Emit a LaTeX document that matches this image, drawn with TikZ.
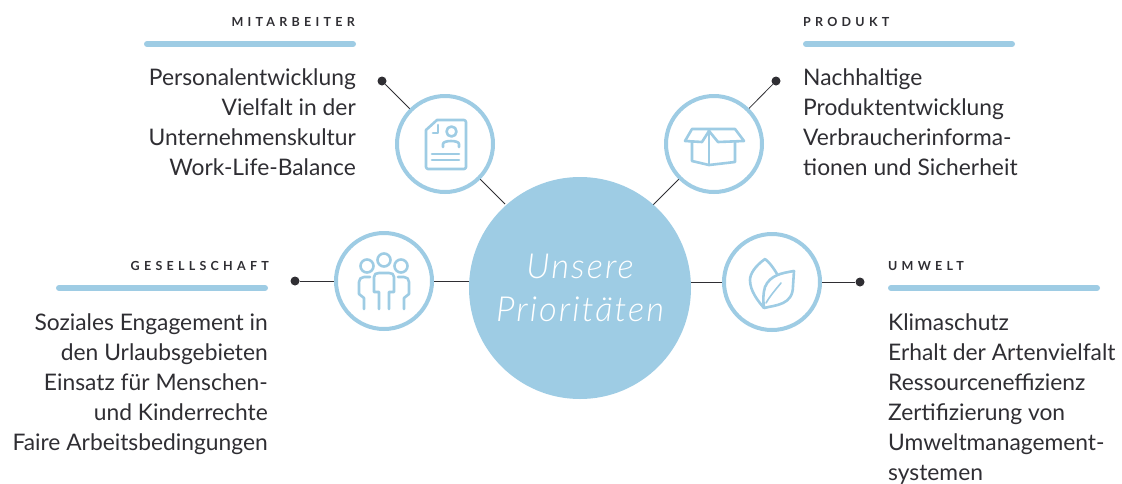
\documentclass[tikz,border=0pt]{standalone}
\usepackage{fontspec}
\setmainfont{Lato}
\newfontfamily\headfont[LetterSpace=34]{Lato Bold}
\newfontfamily\prifont[LetterSpace=6]{Lato Light Italic}
\definecolor{prio}{HTML}{9ECCE4}
\definecolor{ink}{HTML}{2F2E33}
\tikzstyle{ring}=[shape=circle,draw=prio,line width=4pt,fill=white,inner sep=0pt,minimum size=96pt]
\tikzstyle{hub}=[shape=circle,fill=prio,inner sep=0pt,minimum size=222pt,text=white,align=center,font=\prifont\fontsize{34.5}{43}\selectfont]
\tikzstyle{pt}=[shape=circle,fill=ink,inner sep=0pt,minimum size=9pt]
\tikzstyle{link}=[-,draw=ink,line width=0.8pt]
\tikzstyle{head}=[inner sep=0pt,text=ink,font=\headfont\fontsize{12.5}{14}\selectfont]
\tikzstyle{bar}=[draw=prio,line width=6pt,line cap=round]
\tikzstyle{txt}=[inner sep=0pt,text=ink,font=\fontsize{22.8}{30}\selectfont]
\tikzstyle{icon}=[draw=prio,line width=2.6pt,line join=round,line cap=round]
\begin{document}
\begin{tikzpicture}[x=1pt,y=-1pt]
    \useasboundingbox (0,0) rectangle (1122,483);
    \coordinate (hubA) at (505,204);
    \coordinate (hubB) at (652,206);
    \coordinate (hubC) at (471,281);
    \coordinate (hubD) at (689,282);
    \node[ring] (doc) at (445,144) {}
        edge[link] (hubA);
    \node[ring] (box) at (714,144) {}
        edge[link] (hubB);
    \node[ring] (team) at (384,281) {}
        edge[link] (hubC);
    \node[ring] (leaf) at (772,282) {}
        edge[link] (hubD);
    \node[pt] (ptA) at (382,81) {}
        edge[link] (doc);
    \node[pt] (ptB) at (776,81) {}
        edge[link] (box);
    \node[pt] (ptC) at (295,281) {}
        edge[link] (team);
    \node[pt] (ptD) at (860,282) {}
        edge[link] (leaf);
    \node[hub] (hub) at (580,288) {Unsere\\Prioritäten};

    % headings
    \node[head,anchor=base east] (headA) at (355,26.5) {MITARBEITER};
    \node[head,anchor=base west] (headB) at (803,26.5) {PRODUKT};
    \node[head,anchor=base east] (headC) at (269,270.5) {GESELLSCHAFT};
    \node[head,anchor=base west] (headD) at (888,270.5) {UMWELT};
    \draw[bar] (147,44) -- (353,44);
    \draw[bar] (806,44) -- (1012,44);
    \draw[bar] (59,288) -- (265,288);
    \draw[bar] (891,288) -- (1097,288);

    % lists
    \node[txt,align=right,anchor=north east] (listA) at (356,69) {Personalentwicklung\\Vielfalt in der\\Unternehmenskultur\\Work-Life-Balance};
    \node[txt,align=left,anchor=north west] (listB) at (803,69) {Nachhaltige\\Produktentwicklung\\Verbraucherinforma-\\tionen und Sicherheit};
    \node[txt,align=right,anchor=north east] (listC) at (268,313) {Soziales Engagement in\\den Urlaubsgebieten\\Einsatz für Menschen-\\und Kinderrechte\\Faire Arbeitsbedingungen};
    \node[txt,align=left,anchor=north west] (listD) at (888,313) {Klimaschutz\\Erhalt der Artenvielfalt\\Ressourceneffizienz\\Zertifizierung von\\Umweltmanagement-\\systemen};

    % icons
    \begin{scope}[shift={(doc.center)}]
        \draw[icon] (-19,-14) -- (-8,-24) -- (19,-24) .. controls (20,-24) and (21,-23) .. (21,-22) -- (21,23) .. controls (21,24) and (20,25) .. (19,25) -- (-17,25) .. controls (-18,25) and (-19,24) .. (-19,23) -- cycle;
        \draw[icon] (-12,-11) -- (-7,-11) -- (-7,-19);
        \draw[icon] (6.5,-12.5) circle (5);
        \draw[icon] (-2,3) -- (-2,0) .. controls (-2,-4) and (14,-4) .. (14,0) -- (14,3);
        \draw[icon] (-13,10) -- (14,10);
        \draw[icon] (-13,16) -- (14,16);
    \end{scope}
    \begin{scope}[shift={(box.center)}]
        \draw[icon] (-22,-2) -- (-22,17) -- (-5,21) -- (21,18) -- (21,-2);
        \draw[icon] (-5,-13) -- (-5,21);
        \draw[icon] (-5,-13) -- (-12,-2) -- (-29,-3) -- (-22,-15) -- (21,-15) -- (30,-3) -- (4,-2) -- cycle;
    \end{scope}
    \begin{scope}[shift={(team.center)}]
        \draw[icon] (0,-21) circle (6.5);
        \draw[icon] (-17,-15) circle (6.5);
        \draw[icon] (17,-15) circle (6.5);
        \draw[icon] (-5,28) -- (-5,11) -- (-10,11) -- (-10,-4) .. controls (-10,-7) and (-8,-8) .. (-5,-8) -- (5,-8) .. controls (8,-8) and (10,-7) .. (10,-4) -- (10,11) -- (5,11) -- (5,28);
        \draw[icon] (-14,-4) -- (-20,-4) .. controls (-23,-4) and (-25,-2) .. (-25,1) -- (-25,13) -- (-20,17) -- (-20,28);
        \draw[icon] (14,-4) -- (20,-4) .. controls (23,-4) and (25,-2) .. (25,1) -- (25,13) -- (20,17) -- (20,28);
    \end{scope}
    \begin{scope}[shift={(leaf.center)}]
        \draw[icon] (5,-8) .. controls (1,-15) and (-3,-20) .. (-7,-23) .. controls (-17,-16) and (-22,-8) .. (-22,-2) .. controls (-22,9) and (-14,19) .. (-8,26);
        \draw[icon] (-8,26) .. controls (4,23) and (21,23) .. (21,4) -- (22,-11) .. controls (10,-9) and (-2,-7) .. (-7,5) .. controls (-9,11) and (-9,19) .. (-8,26);
        \draw[icon,line width=1.6pt] (-6,21) .. controls (-2,14) and (4,7) .. (9,1);
    \end{scope}
\end{tikzpicture}
\end{document}
